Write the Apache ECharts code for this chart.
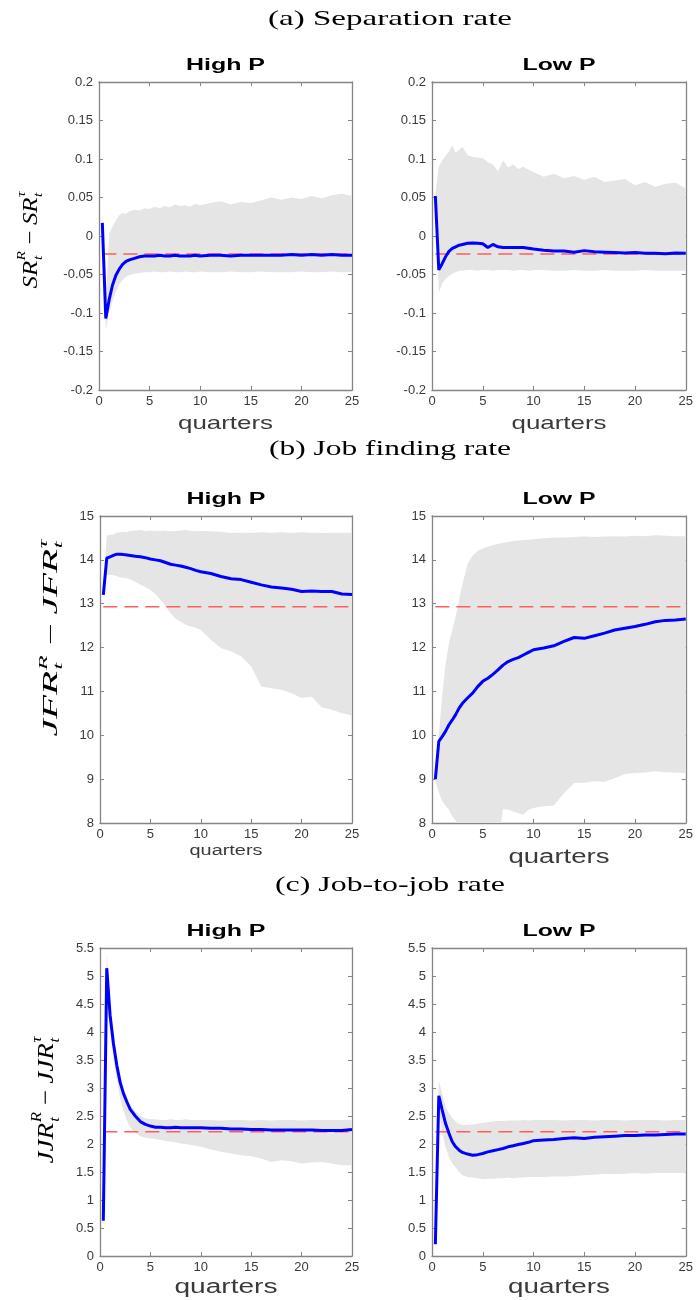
<!DOCTYPE html>
<html><head><meta charset="utf-8">
<script src="https://cdn.jsdelivr.net/npm/echarts@6/dist/echarts.min.js"></script>
<style>html,body{margin:0;padding:0;background:#fff}#c{width:696px;height:1300px}</style>
</head><body><div id="c"></div>
<script>
// ---------------- data ----------------
const quarters = [0.33,0.67,1,1.33,1.67,2,2.33,2.67,3,3.5,4,4.5,5,5.5,6,6.5,7,7.5,8,8.5,9,9.5,10,11,12,13,14,15,16,17,18,19,20,21,22,23,24,25];
const xTicks = [0,5,10,15,20,25];
const sepYTicks = [-0.2,-0.15,-0.1,-0.05,0,0.05,0.1,0.15,0.2];
const jfrYTicks = [8,9,10,11,12,13,14,15];
const jjrYTicks = [0,0.5,1,1.5,2,2.5,3,3.5,4,4.5,5,5.5];

const sepLevel = -0.0235;
const jfrLevel = 12.93;
const jjrLevel = 2.22;

const sepHighMean = [0.017,-0.107,-0.083,-0.064,-0.051,-0.043,-0.037,-0.033,-0.031,-0.029,-0.027,-0.026,-0.026,-0.026,-0.025,-0.026,-0.026,-0.025,-0.026,-0.026,-0.026,-0.025,-0.026,-0.025,-0.025,-0.026,-0.025,-0.025,-0.025,-0.025,-0.025,-0.024,-0.025,-0.024,-0.025,-0.024,-0.025,-0.025];
const sepHighUpper = [0.020,-0.090,0.004,0.012,0.020,0.027,0.030,0.029,0.032,0.034,0.033,0.036,0.035,0.038,0.036,0.039,0.037,0.041,0.039,0.040,0.038,0.042,0.040,0.043,0.045,0.041,0.044,0.043,0.046,0.050,0.047,0.050,0.048,0.052,0.049,0.053,0.055,0.052];
const sepHighLower = [0.012,-0.122,-0.100,-0.085,-0.072,-0.063,-0.057,-0.053,-0.051,-0.049,-0.048,-0.047,-0.047,-0.046,-0.047,-0.047,-0.046,-0.047,-0.047,-0.046,-0.047,-0.047,-0.046,-0.047,-0.047,-0.046,-0.047,-0.047,-0.046,-0.047,-0.047,-0.047,-0.046,-0.047,-0.047,-0.046,-0.047,-0.047];

const sepLowMean = [0.052,-0.044,-0.036,-0.027,-0.020,-0.016,-0.014,-0.012,-0.011,-0.0095,-0.009,-0.0095,-0.010,-0.015,-0.011,-0.014,-0.015,-0.015,-0.015,-0.015,-0.015,-0.016,-0.017,-0.0185,-0.0195,-0.0195,-0.021,-0.019,-0.0205,-0.021,-0.0215,-0.022,-0.0215,-0.0225,-0.0225,-0.023,-0.022,-0.0225];
const sepLowUpper = [0.055,0.090,0.098,0.104,0.110,0.118,0.108,0.112,0.116,0.105,0.103,0.102,0.101,0.096,0.093,0.084,0.098,0.089,0.093,0.087,0.090,0.086,0.083,0.077,0.081,0.075,0.078,0.073,0.077,0.070,0.072,0.074,0.066,0.070,0.064,0.068,0.069,0.062];
const sepLowLower = [0.048,-0.074,-0.062,-0.056,-0.052,-0.049,-0.047,-0.045,-0.045,-0.044,-0.044,-0.045,-0.044,-0.044,-0.045,-0.044,-0.044,-0.044,-0.045,-0.044,-0.044,-0.045,-0.044,-0.044,-0.045,-0.045,-0.044,-0.045,-0.045,-0.044,-0.045,-0.045,-0.045,-0.044,-0.045,-0.045,-0.045,-0.045];

const jfrHighMean = [13.20,14.04,14.07,14.10,14.13,14.13,14.12,14.11,14.10,14.08,14.07,14.05,14.02,14.00,13.98,13.94,13.90,13.88,13.86,13.83,13.80,13.76,13.73,13.69,13.62,13.57,13.55,13.49,13.43,13.38,13.36,13.33,13.28,13.29,13.28,13.28,13.22,13.21];
const jfrHighUpper = [13.22,14.55,14.57,14.58,14.62,14.63,14.64,14.63,14.66,14.67,14.68,14.66,14.67,14.66,14.66,14.67,14.65,14.66,14.67,14.68,14.66,14.65,14.66,14.65,14.64,14.61,14.62,14.61,14.63,14.62,14.63,14.61,14.63,14.62,14.61,14.62,14.62,14.62];
const jfrHighLower = [13.18,13.66,13.66,13.65,13.63,13.60,13.59,13.58,13.56,13.50,13.43,13.38,13.31,13.22,13.09,12.95,12.78,12.66,12.59,12.52,12.48,12.45,12.40,12.18,11.99,11.91,11.80,11.57,11.11,11.07,11.04,10.96,10.85,10.88,10.64,10.58,10.50,10.45];

const jfrLowMean = [9.00,9.86,9.97,10.09,10.24,10.35,10.47,10.62,10.73,10.85,10.96,11.11,11.23,11.30,11.39,11.49,11.60,11.68,11.73,11.77,11.83,11.89,11.95,11.99,12.04,12.14,12.23,12.21,12.27,12.33,12.40,12.44,12.48,12.53,12.59,12.62,12.63,12.65];
const jfrLowUpper = [9.05,10.00,10.90,11.60,12.10,12.40,12.70,13.10,13.45,13.90,14.10,14.20,14.26,14.30,14.34,14.36,14.39,14.41,14.43,14.44,14.45,14.46,14.47,14.49,14.51,14.51,14.52,14.53,14.52,14.53,14.54,14.53,14.55,14.54,14.56,14.55,14.54,14.54];
const jfrLowLower = [8.95,8.70,8.50,8.40,8.30,8.15,8.05,7.90,7.60,7.50,7.50,7.50,7.50,7.50,7.50,7.50,8.32,8.30,8.26,8.22,8.19,8.30,8.34,8.38,8.40,8.68,8.91,8.92,8.95,8.94,9.02,9.12,9.14,9.15,9.18,9.16,9.15,9.14];

const jjrHighMean = [0.63,5.14,4.30,3.80,3.40,3.10,2.90,2.75,2.62,2.50,2.40,2.35,2.32,2.30,2.30,2.29,2.29,2.30,2.29,2.29,2.29,2.29,2.29,2.28,2.28,2.27,2.27,2.26,2.26,2.25,2.25,2.25,2.25,2.25,2.24,2.24,2.24,2.26];
const jjrHighUpper = [0.68,5.42,4.50,3.95,3.52,3.20,3.00,2.84,2.70,2.58,2.50,2.46,2.44,2.44,2.43,2.43,2.44,2.43,2.43,2.44,2.43,2.43,2.43,2.43,2.42,2.43,2.43,2.42,2.43,2.42,2.43,2.43,2.42,2.43,2.43,2.43,2.43,2.43];
const jjrHighLower = [0.58,4.90,4.10,3.55,3.15,2.82,2.60,2.42,2.30,2.20,2.14,2.11,2.10,2.09,2.07,2.06,2.04,2.03,2.01,2.00,1.98,1.97,1.95,1.90,1.86,1.83,1.80,1.78,1.74,1.68,1.71,1.69,1.65,1.67,1.68,1.65,1.62,1.62];

const jjrLowMean = [0.21,2.86,2.61,2.37,2.19,2.04,1.95,1.89,1.85,1.82,1.80,1.81,1.83,1.86,1.88,1.90,1.92,1.95,1.97,1.99,2.01,2.03,2.06,2.07,2.08,2.10,2.11,2.10,2.12,2.13,2.14,2.15,2.15,2.16,2.16,2.17,2.18,2.18];
const jjrLowUpper = [0.30,3.14,2.90,2.67,2.55,2.46,2.40,2.36,2.34,2.34,2.35,2.36,2.38,2.39,2.40,2.41,2.41,2.42,2.42,2.42,2.43,2.42,2.43,2.43,2.43,2.42,2.43,2.43,2.42,2.43,2.43,2.42,2.43,2.43,2.43,2.42,2.43,2.43];
const jjrLowLower = [0.15,2.60,2.19,1.95,1.77,1.65,1.58,1.50,1.44,1.41,1.40,1.39,1.37,1.38,1.38,1.39,1.39,1.40,1.39,1.40,1.40,1.41,1.41,1.41,1.42,1.42,1.43,1.44,1.45,1.47,1.46,1.47,1.48,1.47,1.48,1.48,1.48,1.48];

const sectionTitles = ['(a) Separation rate','(b) Job finding rate','(c) Job-to-job rate'];
const panelTitles = ['High P','Low P'];
const xName = 'quarters';

// ---------------- layout ----------------
const SANS = "'Liberation Sans', Arial, sans-serif";
const SERIF = "'Liberation Serif', 'Times New Roman', serif";
const axisColor = '#858585';
const labelColor = '#3a3a3a';

const panels = [
  {left:99, top:82, w:253, h:308, mean:sepHighMean, up:sepHighUpper, lo:sepHighLower, level:sepLevel, yt:sepYTicks, title:0, row:0},
  {left:432, top:82, w:254, h:308, mean:sepLowMean, up:sepLowUpper, lo:sepLowLower, level:sepLevel, yt:sepYTicks, title:1, row:0},
  {left:100, top:516, w:252, h:307, mean:jfrHighMean, up:jfrHighUpper, lo:jfrHighLower, level:jfrLevel, yt:jfrYTicks, title:0, row:1},
  {left:432, top:516, w:254, h:307, mean:jfrLowMean, up:jfrLowUpper, lo:jfrLowLower, level:jfrLevel, yt:jfrYTicks, title:1, row:1},
  {left:100, top:948, w:252, h:308, mean:jjrHighMean, up:jjrHighUpper, lo:jjrHighLower, level:jjrLevel, yt:jjrYTicks, title:0, row:2},
  {left:432, top:948, w:254, h:308, mean:jjrLowMean, up:jjrLowUpper, lo:jjrLowLower, level:jjrLevel, yt:jjrYTicks, title:1, row:2}
];
const panelTitleY = [66, 500, 932];
const quartersLayout = [
  {y:424, size:19, w:95}, {y:424, size:19, w:95},
  {y:851, size:14, w:73}, {y:857, size:20, w:101},
  {y:1287, size:20, w:103}, {y:1287, size:20, w:102}
];

const cv = document.createElement('canvas');
const ctx = cv.getContext('2d');
function tw(font, text) { ctx.font = font; return ctx.measureText(text).width; }

function stretchedText(text, cx, cy, size, family, weight, targetW, color) {
  const font = weight + ' ' + size + 'px ' + family;
  const w = tw(font, text);
  return {
    type: 'text', x: cx, y: cy, scaleX: targetW / w, silent: true,
    style: { text: text, x: 0, y: 0, font: font, fill: color,
      textAlign: 'center', textVerticalAlign: 'middle', align: 'center', verticalAlign: 'middle' }
  };
}

// rotated math label: font size chosen from thickness, stretched along the reading direction to the target length
function mathLabel(base, cx, cy, len, thick) {
  const F = thick / 1.25;
  const fIt = 'italic ' + F.toFixed(2) + 'px ' + SERIF;
  const fSc = 'italic ' + (F * 0.62).toFixed(2) + 'px ' + SERIF;
  const fUp = F.toFixed(2) + 'px ' + SERIF;
  const wb = tw(fIt, base), wR = tw(fSc, 'R'), wt = tw(fSc, 't'), wTau = tw(fSc, 'τ'), wm = tw(fUp, '−');
  const gap = 0.22 * F;
  const s1 = Math.max(wR, wt) + 0.04 * F, s2 = Math.max(wTau, wt);
  const total = wb + 0.02 * F + s1 + gap + wm + gap + wb + 0.02 * F + s2;
  const mk = (t, x, y, font) => ({ type: 'text', x: x, y: y, silent: true,
    style: { text: t, x: 0, y: 0, font: font, fill: '#000', textAlign: 'left', textVerticalAlign: 'middle', align: 'left', verticalAlign: 'middle' } });
  const x0 = -total / 2;
  const x1 = x0 + wb + 0.02 * F;
  const x2 = x1 + s1 + gap;
  const x3 = x2 + wm + gap;
  const x4 = x3 + wb + 0.02 * F;
  return {
    type: 'group', x: cx, y: cy, rotation: Math.PI / 2, scaleX: len / total,
    children: [
      mk(base, x0, 0, fIt),
      mk('R', x1, -0.42 * F, fSc), mk('t', x1 + 0.02 * F, 0.34 * F, fSc),
      mk('−', x2, 0, fUp),
      mk(base, x3, 0, fIt),
      mk('τ', x4, -0.42 * F, fSc), mk('t', x4, 0.34 * F, fSc)
    ]
  };
}

const fmt = v => String(Math.round(v * 1000) / 1000);

function bandRenderer(p) {
  return function (params, api) {
    if (params.dataIndex !== 0) return null;
    const pts = [];
    for (let j = 0; j < quarters.length; j++) pts.push(api.coord([quarters[j], p.up[j]]));
    for (let j = quarters.length - 1; j >= 0; j--) pts.push(api.coord([quarters[j], p.lo[j]]));
    const cs = params.coordSys;
    return {
      type: 'polygon', silent: true,
      shape: { points: pts },
      style: { fill: '#e5e5e5', stroke: null },
      clipPath: { type: 'rect', shape: { x: cs.x, y: cs.y, width: cs.width, height: cs.height } }
    };
  };
}

const grids = [], xAxes = [], yAxes = [], series = [], graphics = [];

panels.forEach((p, i) => {
  grids.push({ left: p.left, top: p.top, width: p.w, height: p.h, containLabel: false });
  const xBase = {
    gridIndex: i, type: 'value', min: xTicks[0], max: xTicks[xTicks.length - 1], interval: xTicks[1] - xTicks[0],
    axisLine: { show: true, onZero: false, lineStyle: { color: axisColor, width: 1.3 } },
    axisTick: { show: true, inside: true, length: 4, lineStyle: { color: axisColor, width: 1 } },
    splitLine: { show: false }
  };
  xAxes.push(Object.assign({}, xBase, { position: 'bottom',
    axisLabel: { show: true, margin: 5, fontSize: 13, color: labelColor, fontFamily: SANS } }));
  xAxes.push(Object.assign({}, xBase, { position: 'top', axisLabel: { show: false } }));
  const yBase = {
    gridIndex: i, type: 'value', min: p.yt[0], max: p.yt[p.yt.length - 1], interval: p.yt[1] - p.yt[0],
    axisLine: { show: true, onZero: false, lineStyle: { color: axisColor, width: 1.3 } },
    axisTick: { show: true, inside: true, length: 4, lineStyle: { color: axisColor, width: 1 } },
    splitLine: { show: false }
  };
  yAxes.push(Object.assign({}, yBase, { position: 'left',
    axisLabel: { show: true, margin: 6, fontSize: 13, color: labelColor, fontFamily: SANS, formatter: fmt } }));
  yAxes.push(Object.assign({}, yBase, { position: 'right', axisLabel: { show: false } }));

  const xi = 2 * i, yi = 2 * i;
  series.push({
    type: 'custom', xAxisIndex: xi, yAxisIndex: yi, clip: true, silent: true, z: 1,
    data: quarters.map((x, j) => [x, p.lo[j], p.up[j]]),
    encode: { x: 0, y: [1, 2] },
    renderItem: bandRenderer(p)
  });
  series.push({
    type: 'line', xAxisIndex: xi, yAxisIndex: yi, z: 2,
    data: [[quarters[0], p.level], [quarters[quarters.length - 1], p.level]], symbol: 'none', silent: true,
    lineStyle: { color: '#ff5c5c', width: 1.5, type: [14, 7] }
  });
  series.push({
    type: 'line', xAxisIndex: xi, yAxisIndex: yi, z: 3,
    data: quarters.map((x, j) => [x, p.mean[j]]), symbol: 'none', silent: true,
    lineStyle: { color: '#0000ff', width: 3 }
  });

  const cx = p.left + p.w / 2;
  graphics.push(stretchedText(panelTitles[p.title], cx, panelTitleY[p.row], 16, SANS, 'bold', p.title === 0 ? 79 : 73, '#000'));
  const q = quartersLayout[i];
  graphics.push(stretchedText(xName, cx, q.y, q.size, SANS, 'normal', q.w, '#3a3a3a'));
});

graphics.push(stretchedText(sectionTitles[0], 390, 19, 22, SERIF, 'normal', 244, '#000'));
graphics.push(stretchedText(sectionTitles[1], 390, 449, 22, SERIF, 'normal', 242, '#000'));
graphics.push(stretchedText(sectionTitles[2], 390, 885, 22, SERIF, 'normal', 230, '#000'));

graphics.push(mathLabel('SR', 31, 240, 97, 27));
graphics.push(mathLabel('JFR', 52, 638, 197, 25));
graphics.push(mathLabel('JJR', 47, 1100, 127, 30));

const chart = echarts.init(document.getElementById('c'), null, { renderer: 'canvas' });
chart.setOption({
  animation: false,
  backgroundColor: '#fff',
  grid: grids,
  xAxis: xAxes,
  yAxis: yAxes,
  series: series,
  graphic: { elements: graphics }
});
</script>
</body></html>
